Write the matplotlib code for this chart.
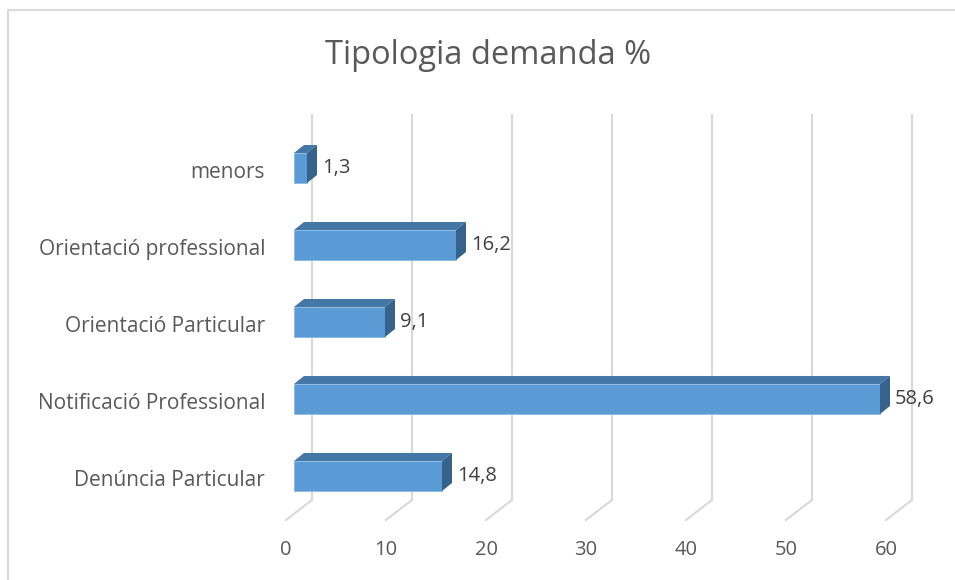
import numpy as np
import matplotlib.pyplot as plt
from matplotlib.patches import Polygon

# Dades
categories = ['Denúncia Particular', 'Notificació Professional', 'Orientació Particular',
              'Orientació professional', 'menors']
values = [14.8, 58.6, 9.1, 16.2, 1.3]
ticks = [0, 10, 20, 30, 40, 50, 60]
value_labels = ['14,8', '58,6', '9,1', '16,2', '1,3']

plt.rcParams['font.family'] = ['Open Sans', 'DejaVu Sans']

fig = plt.figure(figsize=(9.55, 5.8), dpi=100)
ax = fig.add_axes([0, 0, 1, 1])
# 1 unitat = 10 px, 0 a x=294 px; categories cada 77 px
ax.set_xlim(-29.4, 66.1)
ax.set_ylim(-1.351, 6.182)
ax.axis('off')

front = '#5B9BD5'
top_c = '#4476A6'
side_c = '#37628B'
grid_c = '#D9D9D9'

# perspectiva
bh = 0.39          # alçada barra
ddx, ddy = 1.0, 8 / 77   # desplaçament de profunditat de la barra

# graella
y_top = 476 / 77 - 115 / 77
y_back = 476 / 77 - 500 / 77
y_front = 476 / 77 - 520 / 77
for t in ticks:
    ax.plot([t + 1.8, t + 1.8], [y_back, y_top], color=grid_c, lw=1.5, zorder=1)
    ax.plot([t - 0.8, t + 1.8], [y_front, y_back], color=grid_c, lw=1.5, zorder=1)
    ax.text(t - 0.8, 476 / 77 - 550 / 77, str(t), ha='center', va='center',
            fontsize=14.5, color='#595959')

ypos = np.arange(len(categories))
ax.barh(ypos, values, height=bh, left=0, color=front, zorder=3,
        edgecolor='#8DB8E2', lw=0.6)
for y, v, lab, cat in zip(ypos, values, value_labels, categories):
    yt = y + bh / 2
    yb = y - bh / 2
    ax.add_patch(Polygon([(0, yt), (v, yt), (v + ddx, yt + ddy), (ddx, yt + ddy)],
                         closed=True, color=top_c, zorder=3, lw=0))
    ax.add_patch(Polygon([(v, yb), (v, yt), (v + ddx, yt + ddy), (v + ddx, yb + ddy)],
                         closed=True, color=side_c, zorder=3, lw=0))
    ax.text(v + ddx + 0.5, y, lab, ha='left', va='center', fontsize=14.5, color='#404040')
    ax.text(-2.9, y - 0.06, cat, ha='right', va='center', fontsize=15, color='#595959')

ax.text(48.8 - 29.4, 476 / 77 - 55 / 77, 'Tipologia demanda %', ha='center', va='center',
        fontsize=23.5, color='#595959')

# vora del gràfic
ax.plot([-28.6, -28.6, 66.1], [-1.351, 6.182 - 10 / 77, 6.182 - 10 / 77],
        color='#D9D9D9', lw=1.5)

fig.savefig('out.png', dpi=100)
